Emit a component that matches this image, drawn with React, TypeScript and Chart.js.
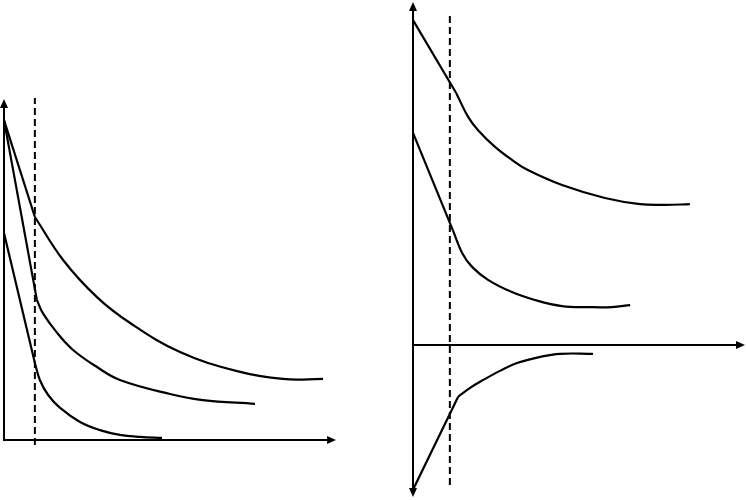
import React, { useEffect, useRef } from "react";
import { Chart, registerables } from "chart.js";

Chart.register(...registerables);

type P = [number, number];

// Left panel curves: first two points are the straight segment, the rest the decay
const leftTop: P[] = [
  [0, 9.38], [0.93, 6.54], [1.78, 5.28], [2.8, 4.19], [3.8, 3.43], [5.3, 2.58],
  [7.02, 2.02], [8.4, 1.79], [9.61, 1.79],
];
const leftMiddle: P[] = [
  [0, 9.38], [0.99, 4.11], [1.17, 3.72], [1.6, 3.14], [2.08, 2.64], [2.8, 2.14],
  [3.49, 1.76], [5.0, 1.35], [5.99, 1.17], [7.56, 1.06],
];
const leftBottom: P[] = [
  [0, 6.07], [0.93, 2.26], [1.08, 1.76], [1.33, 1.32], [1.69, 0.94], [2.29, 0.53],
  [2.89, 0.29], [3.49, 0.15], [4.1, 0.09], [4.76, 0.06],
];
const leftDashX = 0.93;
const leftDashSpan: P = [-0.15, 10.03];
const leftXRange: P = [0, 10];
const leftYRange: P = [0, 10];

// Right panel curves
const rightTop: P[] = [
  [0, 9.53], [1.3, 7.39], [1.66, 6.69], [1.96, 6.3], [2.47, 5.81], [2.98, 5.43],
  [3.46, 5.13], [4.49, 4.69], [5.78, 4.31], [6.84, 4.13], [7.59, 4.11], [8.34, 4.13],
];
const rightMiddle: P[] = [
  [0, 6.22], [1.2, 3.37], [1.48, 2.7], [1.78, 2.29], [2.26, 1.91], [2.98, 1.55],
  [3.67, 1.32], [4.49, 1.14], [5.27, 1.11], [5.99, 1.11], [6.54, 1.17],
];
const rightBottom: P[] = [
  [0, -4.25], [1.36, -1.52], [1.72, -1.26], [2.11, -1.03], [2.62, -0.76], [3.13, -0.53],
  [3.83, -0.35], [4.43, -0.26], [5.42, -0.26],
];
const rightDashX = 1.11;
const rightDashSpan: P = [-4.11, 9.68];
const rightXRange: P = [0, 10];
const rightYRange: P = [-4.46, 10.06];

const lineBase = {
  borderColor: "#000",
  borderWidth: 2.2,
  pointRadius: 0,
  showLine: true,
  fill: false,
  clip: false as const,
};

function buildDatasets(curves: P[][], dashX: number, dashSpan: P) {
  const ds: any[] = [];
  for (const c of curves) {
    ds.push({
      ...lineBase,
      data: c.slice(0, 2).map(([x, y]) => ({ x, y })),
      tension: 0,
    });
    ds.push({
      ...lineBase,
      data: c.slice(1).map(([x, y]) => ({ x, y })),
      tension: 0.4,
    });
  }
  ds.push({
    ...lineBase,
    borderWidth: 2,
    data: [
      { x: dashX, y: dashSpan[0] },
      { x: dashX, y: dashSpan[1] },
    ],
    borderDash: [7, 4],
  });
  return ds;
}

const axesPlugin = {
  id: "axesArrows",
  afterDatasetsDraw(chart: any, _args: any, opts: any) {
    const { ctx } = chart;
    const xs = chart.scales.x;
    const ys = chart.scales.y;
    const x0 = xs.getPixelForValue(0);
    const y0 = ys.getPixelForValue(0);
    const L = 9;
    const H = 4;
    ctx.save();
    ctx.strokeStyle = "#000";
    ctx.fillStyle = "#000";
    ctx.lineWidth = 2;
    // horizontal axis
    ctx.beginPath();
    ctx.moveTo(xs.left - 1, y0);
    ctx.lineTo(xs.right - L + 1, y0);
    ctx.stroke();
    ctx.beginPath();
    ctx.moveTo(xs.right, y0);
    ctx.lineTo(xs.right - L, y0 - H);
    ctx.lineTo(xs.right - L, y0 + H);
    ctx.closePath();
    ctx.fill();
    // vertical axis
    const bottom = opts && opts.downArrow ? ys.bottom - L + 1 : ys.bottom;
    ctx.beginPath();
    ctx.moveTo(x0, bottom);
    ctx.lineTo(x0, ys.top + L - 1);
    ctx.stroke();
    ctx.beginPath();
    ctx.moveTo(x0, ys.top);
    ctx.lineTo(x0 - H, ys.top + L);
    ctx.lineTo(x0 + H, ys.top + L);
    ctx.closePath();
    ctx.fill();
    if (opts && opts.downArrow) {
      ctx.beginPath();
      ctx.moveTo(x0, ys.bottom);
      ctx.lineTo(x0 - H, ys.bottom - L);
      ctx.lineTo(x0 + H, ys.bottom - L);
      ctx.closePath();
      ctx.fill();
    }
    ctx.restore();
  },
};

function makeConfig(
  datasets: any[],
  xr: P,
  yr: P,
  padding: { left: number; right: number; top: number; bottom: number },
  downArrow: boolean
): any {
  return {
    type: "scatter",
    data: { datasets },
    options: {
      animation: false,
      responsive: false,
      events: [],
      layout: { padding },
      scales: {
        x: { type: "linear", display: false, min: xr[0], max: xr[1] },
        y: { type: "linear", display: false, min: yr[0], max: yr[1] },
      },
      plugins: {
        legend: { display: false },
        tooltip: { enabled: false },
        axesArrows: { downArrow },
      },
    },
    plugins: [axesPlugin],
  };
}

export default function App() {
  const leftRef = useRef<HTMLCanvasElement>(null);
  const rightRef = useRef<HTMLCanvasElement>(null);

  useEffect(() => {
    const left = new Chart(
      leftRef.current!,
      makeConfig(
        buildDatasets([leftTop, leftMiddle, leftBottom], leftDashX, leftDashSpan),
        leftXRange,
        leftYRange,
        { left: 4, right: 37, top: 99, bottom: 60 },
        false
      )
    );
    const right = new Chart(
      rightRef.current!,
      makeConfig(
        buildDatasets([rightTop, rightMiddle, rightBottom], rightDashX, rightDashSpan),
        rightXRange,
        rightYRange,
        { left: 40, right: 1, top: 2, bottom: 3 },
        true
      )
    );
    return () => {
      left.destroy();
      right.destroy();
    };
  }, []);

  return (
    <div
      style={{
        position: "absolute",
        left: 0,
        top: 0,
        width: 746,
        height: 500,
        background: "#fff",
        overflow: "hidden",
      }}
    >
      <canvas
        ref={leftRef}
        width={373}
        height={500}
        style={{ position: "absolute", left: 0, top: 0 }}
      />
      <canvas
        ref={rightRef}
        width={373}
        height={500}
        style={{ position: "absolute", left: 373, top: 0 }}
      />
    </div>
  );
}
